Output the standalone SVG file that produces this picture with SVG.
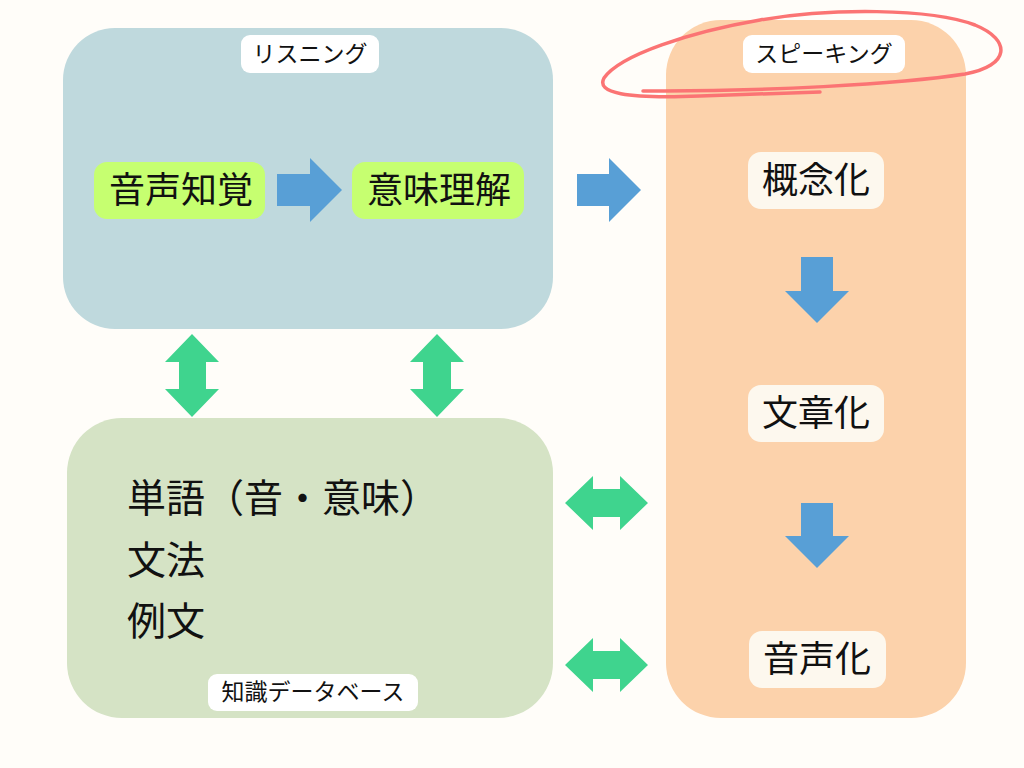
<svg xmlns="http://www.w3.org/2000/svg" width="1024" height="768" viewBox="0 0 1024 768">
<style>
.t{font-family:"Noto Sans CJK JP","Noto Sans",sans-serif;fill:#111;}
.lbl{font-size:23px;text-anchor:middle;}
.big{font-size:36px;text-anchor:middle;}
.kb{font-size:39px;}
.lab{fill:#ffffff;}
.lime{fill:#c6ff70;}
.cream{fill:#fdf8ee;}
.blue{fill:#589fd6;}
.green{fill:#3fd48e;}
</style>
<rect width="1024" height="768" fill="#fffdf9"/>
<g id="listening">
<rect x="63" y="28" width="490" height="301" rx="52" fill="#bfd9dd"/>
<rect class="lab" x="241" y="35" width="138" height="38" rx="9"/>
<text class="t lbl" x="310" y="62">リスニング</text>
</g>
<g id="speaking">
<rect x="666" y="20" width="300" height="698" rx="55" fill="#fcd2ab"/>
<rect class="lab" x="743" y="35" width="162" height="38" rx="9"/>
<text class="t lbl" x="824" y="62">スピーキング</text>
</g>
<g id="knowledge">
<rect x="67" y="418" width="486" height="300" rx="55" fill="#d5e3c5"/>
<text class="t kb" x="127" y="512">単語（音・意味）</text>
<text class="t kb" x="127" y="574">文法</text>
<text class="t kb" x="127" y="635">例文</text>
<rect class="lab" x="208" y="674" width="210" height="37" rx="9"/>
<text class="t lbl" x="313" y="700">知識データベース</text>
</g>
<g id="onsei-chikaku">
<rect class="lime" x="94" y="162" width="171" height="57" rx="13"/>
<text class="t big" x="181" y="203">音声知覚</text>
</g>
<g id="imi-rikai">
<rect class="lime" x="352" y="162" width="172" height="57" rx="13"/>
<text class="t big" x="439" y="203">意味理解</text>
</g>
<g id="gainenka">
<rect class="cream" x="748" y="152" width="136" height="57" rx="13"/>
<text class="t big" x="816" y="193">概念化</text>
</g>
<g id="bunshouka">
<rect class="cream" x="748" y="385" width="136" height="57" rx="13"/>
<text class="t big" x="816" y="426">文章化</text>
</g>
<g id="onseika">
<rect class="cream" x="749" y="631" width="137" height="57" rx="13"/>
<text class="t big" x="817" y="672">音声化</text>
</g>
<g id="connectors">
<polygon class="blue" points="277,174 310,174 310,158 342,190 310,222 310,206 277,206"/>
<polygon class="blue" points="577,174 609,174 609,158 641,190 609,222 609,206 577,206"/>
<polygon class="blue" points="801,257 833,257 833,291 849,291 817,323 785,291 801,291"/>
<polygon class="blue" points="801,503 833,503 833,536 849,536 817,568 785,536 801,536"/>
<polygon class="green" points="192,334 219,362 206,362 206,389 219,389 192,417 165,389 179,389 179,362 165,362"/>
<polygon class="green" points="437,334 464,362 451,362 451,389 464,389 437,417 410,389 423,389 423,362 410,362"/>
<polygon class="green" points="565,503 593,476 593,489 620,489 620,476 648,503 620,530 620,517 593,517 593,530"/>
<polygon class="green" points="565,665 593,638 593,651 620,651 620,638 648,665 620,692 620,679 593,679 593,692"/>
</g>
<path d="M 643 91 C 760 92, 900 84, 965 74 C 1010 66, 1012 40, 975 25 C 930 8, 830 8, 760 20 C 690 32, 620 55, 604 78 C 596 93, 625 99, 700 96 C 760 94, 790 93, 820 92" fill="none" stroke="#fb7474" stroke-width="3.5" stroke-linecap="round"/>
</svg>
